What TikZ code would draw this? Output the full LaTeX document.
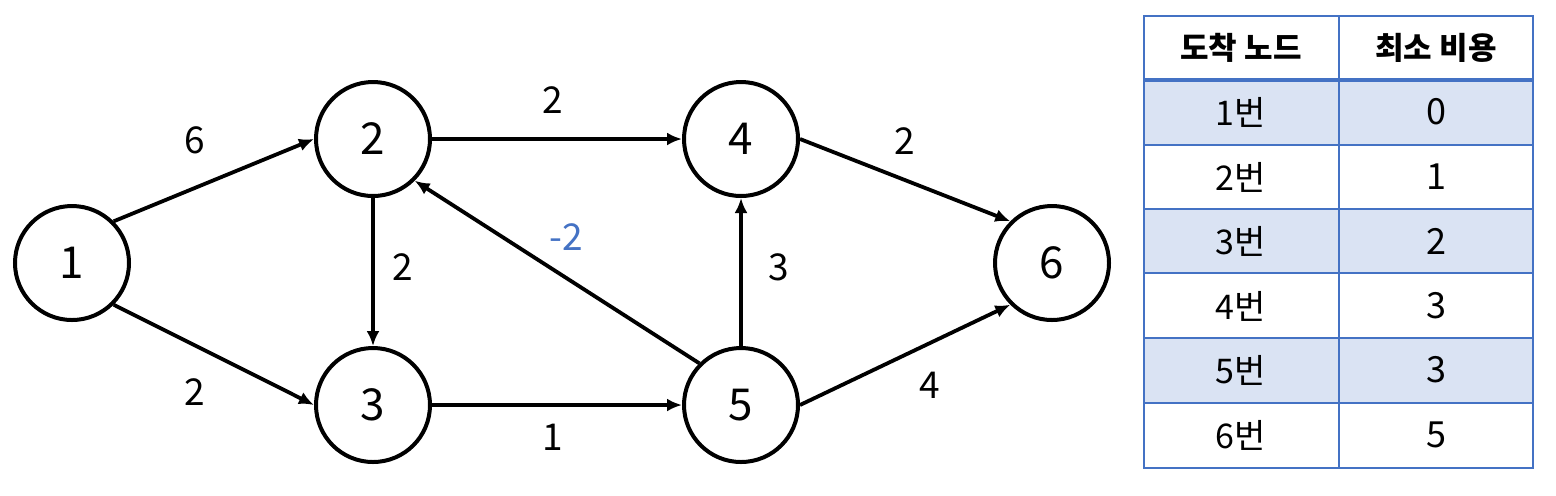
\documentclass[tikz,border=0pt]{standalone}
\usepackage{fontspec}
\setmainfont{Noto Sans CJK KR}
\usetikzlibrary{arrows.meta}

\definecolor{tabline}{HTML}{4472C4}
\definecolor{tabfill}{HTML}{DAE3F3}
\definecolor{negblue}{HTML}{4472C4}

\tikzset{
  vertex/.style={draw=black,line width=2pt,circle,minimum size=57pt,inner sep=0pt,
    font=\fontsize{22}{22}\selectfont},
  edge/.style={line width=1.9pt,-{Latex[length=7.5pt,width=6.5pt]}},
  weight/.style={font=\fontsize{18.5}{18.5}\selectfont},
  headcell/.style={font=\bfseries\fontsize{15.5}{15.5}\selectfont},
  namecell/.style={font=\fontsize{17}{17}\selectfont},
  costcell/.style={font=\fontsize{18}{18}\selectfont},
}

\begin{document}
\begin{tikzpicture}
   \begin{scope}[x=0.5pt,y=-0.5pt]
    \useasboundingbox (0,0) rectangle (1556,495);
    % graph
    \node[vertex] (n1) at (72,263) {1};
    \node[vertex] (n2) at (373,139) {2};
    \node[vertex] (n3) at (373,405) {3};
    \node[vertex] (n4) at (741,139) {4};
    \node[vertex] (n5) at (741,405) {5};
    \node[vertex] (n6) at (1052,263) {6};
    \draw[edge] (n1.north east) -- (n2.west);
    \draw[edge] (n1.south east) -- (n3.west);
    \draw[edge] (n2.east) -- (n4.west);
    \draw[edge] (n2.south) -- (n3.north);
    \draw[edge] (n3.east) -- (n5.west);
    \draw[edge] (n5.north west) -- (n2.south east);
    \draw[edge] (n5.north) -- (n4.south);
    \draw[edge] (n4.east) -- (n6.north west);
    \draw[edge] (n5.east) -- (n6.south west);
    \node[weight] (w12) at (195,140) {6};
    \node[weight] (w13) at (195,392) {2};
    \node[weight] (w24) at (553,100) {2};
    \node[weight] (w23) at (403,267) {2};
    \node[weight] (w35) at (553,437) {1};
    \node[weight,text=negblue] (w52) at (566,237) {-2};
    \node[weight] (w54) at (779,267) {3};
    \node[weight] (w46) at (905,141) {2};
    \node[weight] (w56) at (930,385) {4};
    % table
    \fill[tabfill] (1144,80) rectangle (1533,145);
    \fill[tabfill] (1144,209) rectangle (1533,273);
    \fill[tabfill] (1144,338) rectangle (1533,403);
    \draw[tabline,line width=1pt] (1144,16) rectangle (1533,468);
    \draw[tabline,line width=1pt] (1339,16) -- (1339,468);
    \draw[tabline,line width=1.7pt] (1144,80) -- (1533,80);
    \draw[tabline,line width=1pt] (1144,145) -- (1533,145);
    \draw[tabline,line width=1pt] (1144,209) -- (1533,209);
    \draw[tabline,line width=1pt] (1144,273) -- (1533,273);
    \draw[tabline,line width=1pt] (1144,338) -- (1533,338);
    \draw[tabline,line width=1pt] (1144,403) -- (1533,403);
    \node[headcell] (hname) at (1241,48) {도착 노드};
    \node[headcell] (hcost) at (1436,48) {최소 비용};
    \node[namecell] (name1) at (1241,112) {1번};
    \node[namecell] (name2) at (1241,177) {2번};
    \node[namecell] (name3) at (1241,241) {3번};
    \node[namecell] (name4) at (1241,306) {4번};
    \node[namecell] (name5) at (1241,370) {5번};
    \node[namecell] (name6) at (1241,435) {6번};
    \node[costcell] (cost1) at (1436,112) {0};
    \node[costcell] (cost2) at (1436,177) {1};
    \node[costcell] (cost3) at (1436,241) {2};
    \node[costcell] (cost4) at (1436,306) {3};
    \node[costcell] (cost5) at (1436,370) {3};
    \node[costcell] (cost6) at (1436,435) {5};
   \end{scope}
\end{tikzpicture}
\end{document}
